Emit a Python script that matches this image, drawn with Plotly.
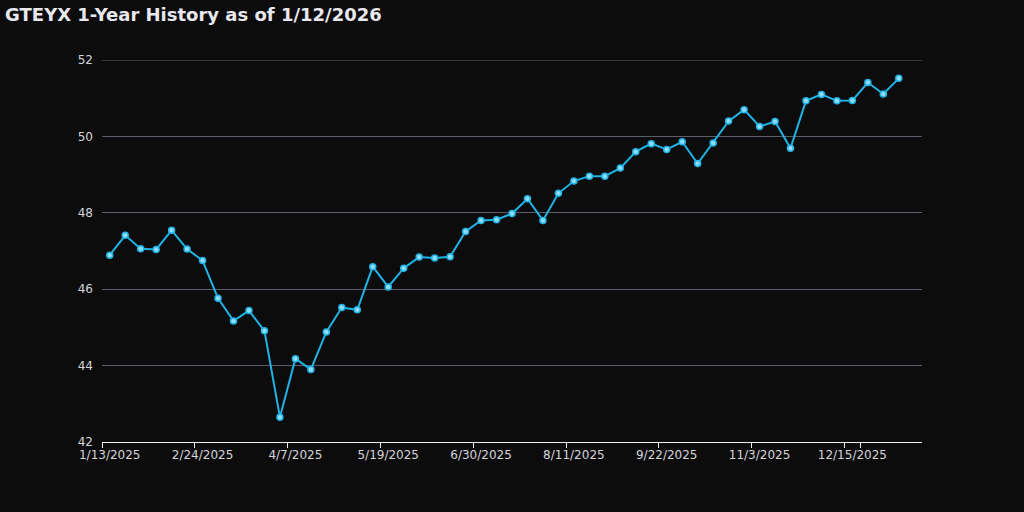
import plotly.graph_objects as go

week_labels = [
    "1/13/2025", "1/20/2025", "1/27/2025", "2/3/2025", "2/10/2025", "2/17/2025",
    "2/24/2025", "3/3/2025", "3/10/2025", "3/17/2025", "3/24/2025", "3/31/2025",
    "4/7/2025", "4/14/2025", "4/21/2025", "4/28/2025", "5/5/2025", "5/12/2025",
    "5/19/2025", "5/26/2025", "6/2/2025", "6/9/2025", "6/16/2025", "6/23/2025",
    "6/30/2025", "7/7/2025", "7/14/2025", "7/21/2025", "7/28/2025", "8/4/2025",
    "8/11/2025", "8/18/2025", "8/25/2025", "9/1/2025", "9/8/2025", "9/15/2025",
    "9/22/2025", "9/29/2025", "10/6/2025", "10/13/2025", "10/20/2025", "10/27/2025",
    "11/3/2025", "11/10/2025", "11/17/2025", "11/24/2025", "12/1/2025", "12/8/2025",
    "12/15/2025", "12/22/2025", "12/29/2025", "1/5/2026", "1/12/2026",
]

prices = [
    46.89, 47.41, 47.06, 47.04, 47.54, 47.05, 46.75, 45.76, 45.17, 45.44,
    44.91, 42.65, 44.18, 43.90, 44.88, 45.52, 45.46, 46.59, 46.06, 46.55,
    46.84, 46.82, 46.85, 47.51, 47.80, 47.82, 47.98, 48.37, 47.80, 48.51,
    48.83, 48.96, 48.96, 49.17, 49.60, 49.81, 49.66, 49.86, 49.29, 49.83,
    50.40, 50.70, 50.26, 50.39, 49.69, 50.93, 51.10, 50.93, 50.94, 51.41,
    51.11, 51.52, None,
]

shown_ticks = week_labels[::6]
y_ticks = [42, 44, 46, 48, 50, 52]
grid_color = "#5a5e6b"

fig = go.Figure(
    go.Scatter(
        x=week_labels,
        y=prices,
        mode="lines+markers",
        line=dict(color="#1fb3e6", width=2),
        marker=dict(size=6, color="#8fdcf7", line=dict(color="#1fb3e6", width=1.5)),
        connectgaps=False,
        hoverinfo="x+y",
    )
)

# top gridline (plotly drops the gridline lying exactly on the plot edge)
fig.add_shape(
    type="line", xref="paper", yref="y", x0=0, x1=1, y0=y_ticks[-1], y1=y_ticks[-1],
    line=dict(color=grid_color, width=1), layer="below",
)

fig.update_layout(
    width=1024,
    height=512,
    paper_bgcolor="#0d0c0d",
    plot_bgcolor="#0d0c0d",
    margin=dict(l=102, r=102, t=60, b=70),
    font=dict(family="DejaVu Sans", color="#d4d4d8", size=12),
    title=dict(
        text="<b>GTEYX 1-Year History as of 1/12/2026</b>",
        x=0.005, xanchor="left", y=0.972, yanchor="middle",
        font=dict(size=18, color="#e8e8ee", family="DejaVu Sans"),
    ),
    showlegend=False,
)

fig.update_xaxes(
    type="category",
    categoryorder="array",
    categoryarray=week_labels,
    range=[-0.5, len(week_labels) - 0.5],
    tickmode="array",
    tickvals=shown_ticks,
    ticktext=shown_ticks,
    tickson="boundaries",
    tickangle=0,
    ticks="outside",
    ticklen=5,
    tickwidth=1,
    tickcolor="#f0f0f0",
    ticklabelstandoff=2,
    showline=True,
    linecolor="#f0f0f0",
    linewidth=1,
    showgrid=False,
    zeroline=False,
    tickfont=dict(size=12, color="#d4d4d8"),
)

fig.update_yaxes(
    range=[42, 52],
    tickvals=y_ticks,
    showgrid=True,
    gridcolor=grid_color,
    gridwidth=1,
    zeroline=False,
    showline=False,
    ticks="",
    ticklabelstandoff=8,
    tickfont=dict(size=12, color="#d4d4d8"),
)

fig.write_html(
    "out.html",
    config={"displayModeBar": False},
    post_script="document.body.style.margin='0';document.body.style.background='#0d0c0d';",
)
